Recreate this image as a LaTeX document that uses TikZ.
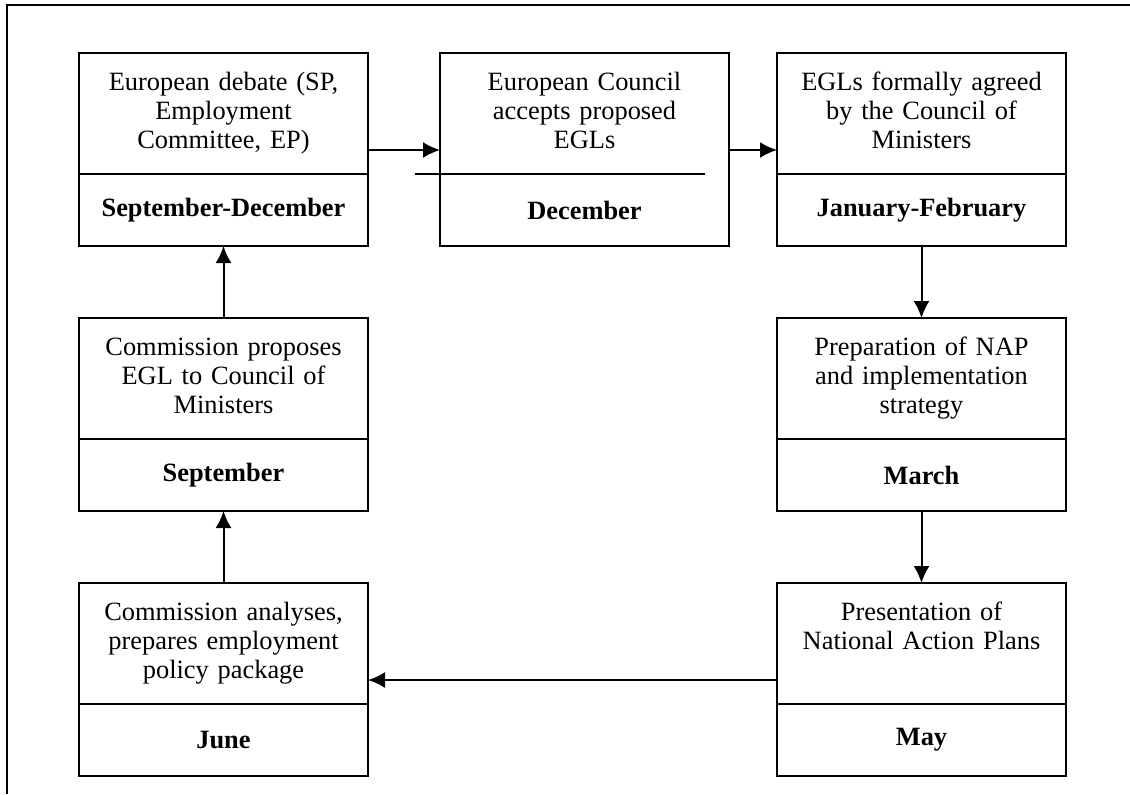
\documentclass[tikz,border=0pt]{standalone}
\usepackage{fontspec}
\setmainfont{Liberation Serif}
\usepackage{tikz}
\usetikzlibrary{arrows.meta}
\usetikzlibrary{positioning}
\tikzset{>={Latex[length=8.5pt,width=8pt]}}

\begin{document}
\begin{tikzpicture}[x=0.5pt, y=-0.5pt, line width=1pt,
	stage/.style={draw, inner sep=0pt, outer sep=0pt, text width=144.5pt, align=center, text height=18.5pt, text depth=42pt, font=\fontsize{13.2}{14.5}\selectfont},
	month/.style={draw, inner sep=0pt, outer sep=0pt, minimum width=144.5pt, minimum height=36pt, font=\fontsize{13.2}{14.5}\selectfont\bfseries},
	node distance=36pt]
		\useasboundingbox (0,0) rectangle (1130,794);
		\draw (1130,5) -- (7,5) -- (7,794);
		\node[stage, anchor=north] (s1) at (223.5,53) {European debate (SP,\\ Employment\\ Committee, EP)};
		\node[month] (d1) [below=0pt of s1] {September-December};
		\node[stage, draw=none] (s2) [right=of s1] {European Council\\ accepts proposed\\ EGLs};
		\node[month, draw=none] (d2) [below=0pt of s2] {December};
		\node[stage] (s3) [right=24pt of s2] {EGLs formally agreed\\ by the Council of\\ Ministers};
		\node[month] (d3) [below=0pt of s3] {January-February};
		\node[stage] (s4) [below=of d3] {Preparation of NAP\\ and implementation\\ strategy};
		\node[month] (d4) [below=0pt of s4] {March};
		\node[stage] (s5) [below=of d4] {Presentation of\\ National Action Plans};
		\node[month] (d5) [below=0pt of s5] {May};
		\node[stage] (s7) [below=of d1] {Commission proposes\\ EGL to Council of\\ Ministers};
		\node[month] (d7) [below=0pt of s7] {September};
		\node[stage] (s6) [below=of d7] {Commission analyses,\\ prepares employment\\ policy package};
		\node[month] (d6) [below=0pt of s6] {June};
		% the December box has its dividing line shifted to the left
		\draw (s2.north west) rectangle (d2.south east);
		\draw ([xshift=-12.5pt]s2.south west) -- ([xshift=-12pt]s2.south east);
		\path[->]
			([yshift=-18.25pt]s1.east) edge ([yshift=-18.25pt]s2.west)
			([yshift=-18.25pt]s2.east) edge ([yshift=-18.25pt]s3.west)
			(d3) edge (s4)
			(d4) edge (s5)
			([yshift=-18.25pt]s5.west) edge ([yshift=-18.25pt]s6.east)
			(s6) edge (d7)
			(s7) edge (d1);
	\end{tikzpicture}
\end{document}
